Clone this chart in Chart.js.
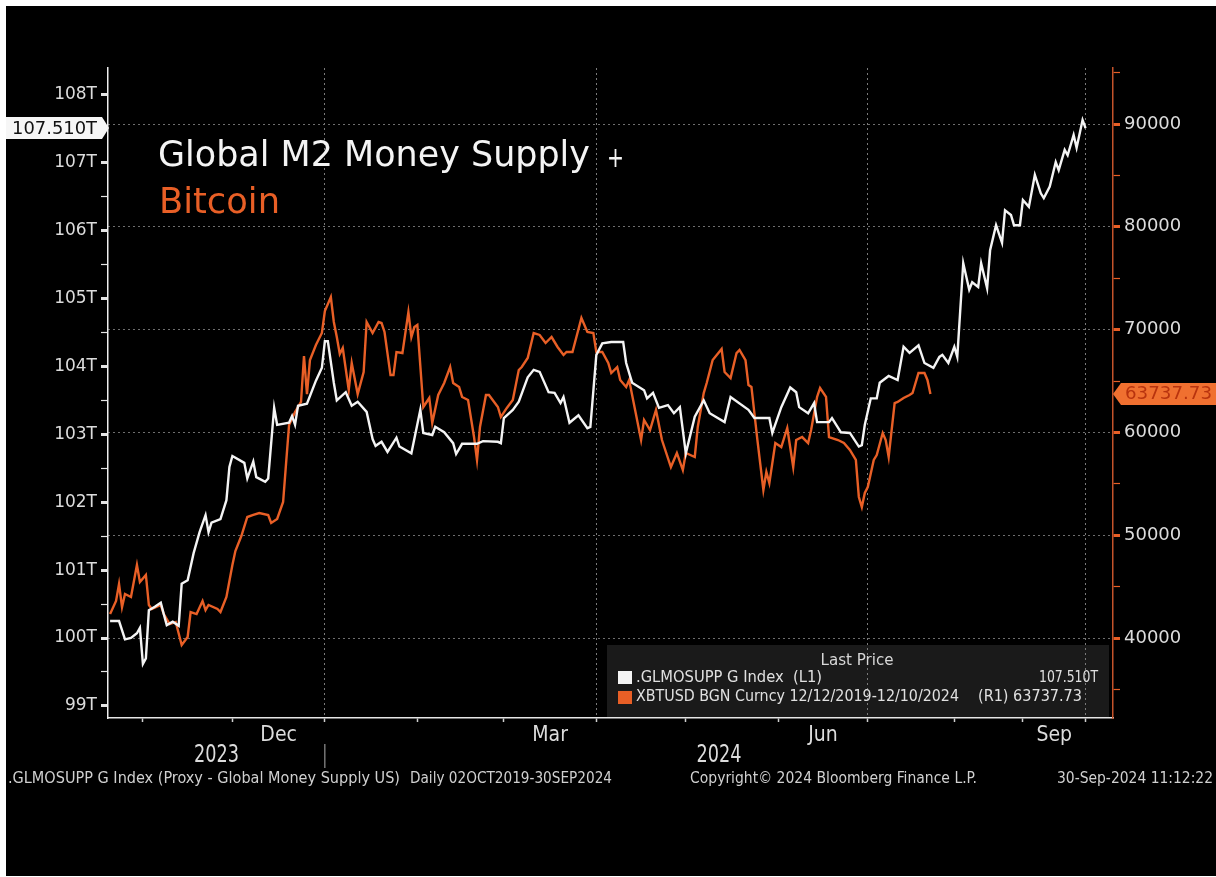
<!DOCTYPE html>
<html>
<head>
<meta charset="utf-8">
<script src="https://cdn.jsdelivr.net/npm/chart.js@4.4.1/dist/chart.umd.min.js"></script>
<style>
  html, body { margin: 0; padding: 0; background: #fff; }
  canvas { display: block; }
</style>
</head>
<body>
<canvas id="m2Chart" width="1216" height="877"></canvas>
<script>
const ctx = document.getElementById("m2Chart").getContext("2d");

// x axis = day index from 1 Nov 2023 (Bloomberg squeezes the last two months)
const monthStarts = [0, 30, 61, 92, 121, 152, 182, 213, 243, 272, 295, 316];
const monthNames = ["Nov", "Dec", "Jan", "Feb", "Mar", "Apr", "May", "Jun", "Jul", "Aug", "Sep"];
const labelledMonths = ["Dec", "Mar", "Jun", "Sep"];
const quarterStarts = [61, 152, 243, 316];
const yearNames = ["2023", "2024"];
const yearBoundary = 61;

// tick values
const m2Ticks = [99, 99.5, 100, 100.5, 101, 101.5, 102, 102.5, 103, 103.5, 104, 104.5, 105, 105.5, 106, 106.5, 107, 107.5, 108];
const btcTicks = [35000, 40000, 45000, 50000, 55000, 60000, 65000, 70000, 75000, 80000, 85000, 90000, 95000];

// Global M2 money supply (trillions USD)
const m2Day = [
  -11, -8, -6, -4, -2, -1, 0, 1, 2, 4,
  6, 7, 8, 10, 12, 13, 15, 17, 19, 21,
  22, 23, 26, 28, 29, 30, 34, 35, 37, 38,
  41, 42, 44, 45, 49, 50, 51, 52, 55, 58,
  60, 61, 62, 64, 65, 68, 70, 72, 75, 77,
  78, 80, 82, 85, 86, 90, 93, 94, 97, 98,
  101, 104, 105, 107, 112, 114, 119, 120, 121, 124,
  126, 129, 131, 133, 136, 138, 140, 141, 143, 146,
  149, 150, 152, 154, 157, 161, 162, 164, 168, 169,
  171, 173, 176, 178, 180, 182, 185, 188, 190, 195,
  197, 203, 205, 210, 211, 214, 217, 219, 220, 223,
  225, 226, 230, 231, 234, 237, 240, 241, 242, 244,
  246, 247, 250, 253, 255, 257, 260, 262, 265, 267,
  268, 270, 272, 273, 275, 277, 278, 280, 281, 283,
  284, 286, 288, 289, 291, 292, 294, 295, 297, 299,
  301, 302, 304, 306, 307, 309, 310, 312, 313, 315,
  316
];
const m2Value = [
  100.25, 100.25, 99.98, 100.0, 100.07, 100.15, 99.62, 99.7, 100.41, 100.46,
  100.52, 100.35, 100.19, 100.24, 100.18, 100.8, 100.85, 101.25, 101.56, 101.81,
  101.56, 101.7, 101.75, 102.03, 102.52, 102.68, 102.58, 102.35, 102.6, 102.37,
  102.3, 102.35, 103.39, 103.14, 103.17, 103.27, 103.14, 103.42, 103.45, 103.79,
  103.98, 104.37, 104.37, 103.76, 103.5, 103.62, 103.42, 103.48, 103.33, 102.93,
  102.83, 102.89, 102.74, 102.95, 102.82, 102.72, 103.36, 103.02, 102.99, 103.11,
  103.03, 102.87, 102.71, 102.86, 102.86, 102.9, 102.89, 102.87, 103.24, 103.36,
  103.48, 103.84, 103.95, 103.92, 103.62, 103.61, 103.46, 103.55, 103.17, 103.28,
  103.09, 103.11, 104.17, 104.34, 104.36, 104.36, 104.05, 103.76, 103.65, 103.53,
  103.61, 103.39, 103.43, 103.31, 103.4, 102.72, 103.26, 103.5, 103.31, 103.18,
  103.55, 103.36, 103.24, 103.24, 103.02, 103.4, 103.69, 103.62, 103.4, 103.31,
  103.46, 103.18, 103.18, 103.24, 103.03, 103.02, 102.82, 102.84, 103.14, 103.53,
  103.53, 103.76, 103.86, 103.8, 104.29, 104.2, 104.31, 104.05, 103.98, 104.14,
  104.17, 104.05, 104.29, 104.14, 105.52, 105.13, 105.24, 105.17, 105.52, 105.15,
  105.71, 106.08, 105.82, 106.3, 106.23, 106.08, 106.08, 106.45, 106.35, 106.82,
  106.55, 106.48, 106.65, 107.01, 106.89, 107.19, 107.11, 107.41, 107.22, 107.63,
  107.51
];

// Bitcoin (XBTUSD), shifted series as plotted by Bloomberg
const btcDay = [
  -11, -9, -8, -7, -6, -4, -2, -1, 1, 2,
  3, 6, 7, 9, 11, 13, 15, 16, 18, 20,
  21, 22, 25, 26, 28, 30, 31, 33, 35, 37,
  39, 42, 43, 45, 47, 48, 49, 51, 53, 54,
  55, 56, 58, 60, 61, 63, 64, 65, 66, 67,
  69, 70, 72, 74, 75, 77, 79, 80, 81, 83,
  84, 85, 87, 89, 90, 91, 92, 94, 96, 97,
  99, 101, 103, 104, 106, 107, 109, 111, 112, 113,
  115, 116, 119, 120, 122, 124, 126, 127, 129, 131,
  133, 135, 137, 139, 141, 142, 144, 147, 149, 151,
  152, 154, 156, 157, 159, 160, 162, 163, 165, 167,
  168, 170, 172, 174, 177, 179, 181, 182, 185, 186,
  188, 189, 191, 194, 195, 197, 199, 200, 202, 203,
  204, 206, 208, 209, 210, 212, 214, 216, 218, 219,
  221, 223, 224, 226, 227, 229, 230, 233, 235, 237,
  239, 240, 241, 242, 243, 245, 246, 248, 249, 250,
  252, 253, 255, 257, 258, 260, 262, 263, 264
];
const btcValue = [
  42330, 43600, 45250, 43000, 44280, 43990, 47100, 45450, 46130, 43210,
  42820, 43210, 42330, 41360, 41560, 39320, 40100, 42530, 42330, 43600,
  42720, 43210, 42820, 42530, 43990, 47100, 48460, 49920, 51770, 51970,
  52160, 51970, 51190, 51580, 53230, 57020, 60720, 61990, 62960, 67430,
  63730, 67040, 68500, 69670, 71810, 73170, 70740, 69280, 67630, 68210,
  64130, 66750, 63730, 65880, 70740, 69670, 70740, 70640, 69770, 65580,
  65580, 67820, 67720, 71710, 69280, 70250, 70450, 62470, 63350, 60920,
  63640, 64810, 66360, 64810, 64420, 63450, 63150, 59550, 57320, 60530,
  63640, 63640, 62470, 61500, 62380, 63150, 66070, 66360, 67240, 69670,
  69480, 68700, 69280, 68310, 67530, 67820, 67820, 71130, 69770, 69670,
  67820, 67820, 66750, 65780, 66360, 65100, 64420, 65100, 62180, 59260,
  61210, 60230, 62180, 59260, 56630, 58000, 56340, 58000, 57610, 60530,
  63830, 64810, 67040, 68110, 65880, 65290, 67720, 68020, 67040, 64610,
  64420, 59260, 54400, 56150, 55070, 58970, 58580, 60430, 56630, 59260,
  59550, 58970, 60230, 63450, 64320, 63450, 59550, 59260, 58970, 58290,
  57320, 53720, 52740, 54110, 54690, 57320, 57800, 59940, 59260, 57610,
  62860, 62960, 63350, 63640, 63830, 65780, 65780, 65100, 63737.73
];

const m2Last = 107.51;
const btcLast = 63737.73;

const WHITE = "#f4f4f4";
const ORANGE = "#e85f26";
const NARROW = '"Liberation Sans Narrow", "DejaVu Sans Condensed", sans-serif';
const WIDE = '"DejaVu Sans", Verdana, sans-serif';

const labelDays = labelledMonths.map((name) => {
  const i = monthNames.indexOf(name);
  return (monthStarts[i] + monthStarts[i + 1]) / 2;
});

// draw text squeezed/stretched to a given width
function fitText(c, text, x, y, w, font, color, align) {
  c.save();
  c.font = font;
  c.fillStyle = color;
  c.textBaseline = "middle";
  c.textAlign = "left";
  const m = c.measureText(text).width;
  const x0 = align === "right" ? x - w : align === "center" ? x - w / 2 : x;
  c.translate(x0, y);
  c.scale(w / m, 1);
  c.fillText(text, 0, 0);
  c.restore();
}

const bloombergFrame = {
  id: "bloombergFrame",
  beforeDraw(chart) {
    const c = chart.ctx;
    const a = chart.chartArea;
    c.save();
    c.fillStyle = "#fff";
    c.fillRect(0, 0, chart.width, chart.height);
    c.fillStyle = "#000";
    c.fillRect(6, 6, chart.width - 6, chart.height - 7);
    // legend panel (under the grid)
    c.fillStyle = "#1a1a1a";
    c.fillRect(607, 645, a.right - 4 - 607, a.bottom - 645);
    c.restore();
  },
  afterDraw(chart) {
    const c = chart.ctx;
    const x = chart.scales.x;
    const a = chart.chartArea;

    // title
    fitText(c, "Global M2 Money Supply", 158, 157, 432, "35px " + WIDE, WHITE, "left");
    fitText(c, "+", 607, 160, 17, "28px " + WIDE, WHITE, "left");
    fitText(c, "Bitcoin", 159, 204, 121, "35px " + WIDE, ORANGE, "left");

    // last value badges
    const yM = chart.scales.y.getPixelForValue(m2Last);
    c.save();
    c.fillStyle = "#f6f6f6";
    c.beginPath();
    c.moveTo(6, yM - 11);
    c.lineTo(102, yM - 11);
    c.lineTo(109, yM);
    c.lineTo(102, yM + 11);
    c.lineTo(6, yM + 11);
    c.closePath();
    c.fill();
    c.restore();
    fitText(c, "107.510T", 97, yM + 1, 85, "17px " + WIDE, "#111", "right");

    const yB = chart.scales.y2.getPixelForValue(btcLast);
    c.save();
    c.fillStyle = "#f07030";
    c.beginPath();
    c.moveTo(a.right, yB);
    c.lineTo(a.right + 8, yB - 11);
    c.lineTo(chart.width, yB - 11);
    c.lineTo(chart.width, yB + 11);
    c.lineTo(a.right + 8, yB + 11);
    c.closePath();
    c.fill();
    c.restore();
    fitText(c, "63737.73", 1125, yB + 1, 87, "17px " + WIDE, "#b8330e", "left");

    // legend text
    fitText(c, "Last Price", 857, 661, 73, "16px " + NARROW, "#d8d8d8", "center");
    c.fillStyle = WHITE;
    c.fillRect(618, 671, 14, 13);
    c.fillStyle = ORANGE;
    c.fillRect(618, 691, 14, 13);
    fitText(c, ".GLMOSUPP G Index  (L1)", 636, 678, 186, "16px " + NARROW, "#e0e0e0", "left");
    fitText(c, "107.510T", 1098, 678, 59, "16px " + NARROW, "#e0e0e0", "right");
    fitText(c, "XBTUSD BGN Curncy 12/12/2019-12/10/2024", 636, 697, 323, "16px " + NARROW, "#e0e0e0", "left");
    fitText(c, "(R1) 63737.73", 978, 697, 104, "16px " + NARROW, "#e0e0e0", "left");

    // year row
    const xb = x.getPixelForValue(yearBoundary);
    c.save();
    c.strokeStyle = "#b0b0b0";
    c.lineWidth = 1;
    c.beginPath();
    c.moveTo(xb, 744);
    c.lineTo(xb, 768);
    c.stroke();
    c.restore();
    const yearCenters = [(x.min + yearBoundary) / 2, (yearBoundary + x.max) / 2];
    yearNames.forEach((name, i) => {
      fitText(c, name, x.getPixelForValue(yearCenters[i]), 756, 45, "24px " + NARROW, "#dcdcdc", "center");
    });

    // footer
    const f = "15px " + NARROW;
    fitText(c, ".GLMOSUPP G Index (Proxy - Global Money Supply US)", 8, 779, 392, f, "#d0d0d0", "left");
    fitText(c, "Daily 02OCT2019-30SEP2024", 410, 779, 202, f, "#d0d0d0", "left");
    fitText(c, "Copyright\u00A9 2024 Bloomberg Finance L.P.", 690, 779, 287, f, "#d0d0d0", "left");
    fitText(c, "30-Sep-2024 11:12:22", 1213, 779, 156, f, "#d0d0d0", "right");
  },
};

new Chart(ctx, {
  type: "line",
  data: {
    datasets: [
      {
        label: ".GLMOSUPP G Index (L1)",
        data: m2Day.map((d, i) => ({ x: d, y: m2Value[i] })),
        borderColor: WHITE,
        borderWidth: 2.4,
        pointRadius: 0,
        tension: 0,
        yAxisID: "y",
      },
      {
        label: "XBTUSD BGN Curncy (R1)",
        data: btcDay.map((d, i) => ({ x: d, y: btcValue[i] })),
        borderColor: ORANGE,
        borderWidth: 2.4,
        pointRadius: 0,
        tension: 0,
        yAxisID: "y2",
      },
    ],
  },
  options: {
    responsive: false,
    animation: false,
    layout: { padding: { top: 68, left: 0, right: 0, bottom: 119 } },
    plugins: {
      legend: { display: false },
      tooltip: { enabled: false },
    },
    scales: {
      x: {
        type: "linear",
        position: "bottom",
        min: -11.7,
        max: 325.2,
        afterBuildTicks: (s) => {
          s.ticks = [...monthStarts, ...labelDays].sort((p, q) => p - q).map((v) => ({ value: v }));
        },
        afterFit: (s) => {
          s.height = 40;
        },
        ticks: {
          autoSkip: false,
          maxRotation: 0,
          padding: 1,
          color: "#dcdcdc",
          font: { family: NARROW, size: 21 },
          callback: (v) => {
            const i = labelDays.indexOf(v);
            return i >= 0 ? labelledMonths[i] : "";
          },
        },
        grid: {
          drawOnChartArea: true,
          color: (c) => (c.tick && quarterStarts.includes(c.tick.value) ? "#7a7a7a" : "rgba(0,0,0,0)"),
          lineWidth: 1,
          tickLength: 4,
          tickWidth: 1.5,
          tickColor: (c) => (c.tick && monthStarts.includes(c.tick.value) ? "#cfcfcf" : "rgba(0,0,0,0)"),
        },
        border: { display: true, color: "#e6e6e6", width: 1.5, dash: [2, 3] },
      },
      y: {
        type: "linear",
        position: "left",
        min: 98.822,
        max: 108.395,
        afterBuildTicks: (s) => {
          s.ticks = m2Ticks.map((v) => ({ value: v }));
        },
        afterFit: (s) => {
          s.width = 108;
        },
        ticks: {
          padding: 4,
          color: "#dcdcdc",
          font: { family: WIDE, size: 17 },
          callback: (v) => (Number.isInteger(v) ? v + "T" : ""),
        },
        grid: {
          drawOnChartArea: false,
          tickLength: 7,
          tickColor: "#e4e4e4",
          tickWidth: (c) => (c.tick && Number.isInteger(c.tick.value) ? 3 : 1.2),
        },
        border: { display: true, color: "#eeeeee", width: 1.5 },
      },
      y2: {
        type: "linear",
        position: "right",
        min: 32218,
        max: 95450,
        afterBuildTicks: (s) => {
          s.ticks = btcTicks.map((v) => ({ value: v }));
        },
        afterFit: (s) => {
          s.width = 103;
        },
        ticks: {
          padding: 4,
          color: "#dcdcdc",
          font: { family: WIDE, size: 18 },
          callback: (v) => (v % 10000 === 0 ? String(v) : ""),
        },
        grid: {
          drawOnChartArea: true,
          color: (c) => (c.tick && c.tick.value % 10000 === 0 ? "#6e6e6e" : "rgba(0,0,0,0)"),
          lineWidth: 1,
          tickLength: 7,
          tickColor: ORANGE,
          tickWidth: (c) => (c.tick && c.tick.value % 10000 === 0 ? 3 : 1.2),
        },
        border: { display: true, color: "#c4532a", width: 1.5, dash: [2, 3] },
      },
    },
  },
  plugins: [bloombergFrame],
});
</script>
</body>
</html>
